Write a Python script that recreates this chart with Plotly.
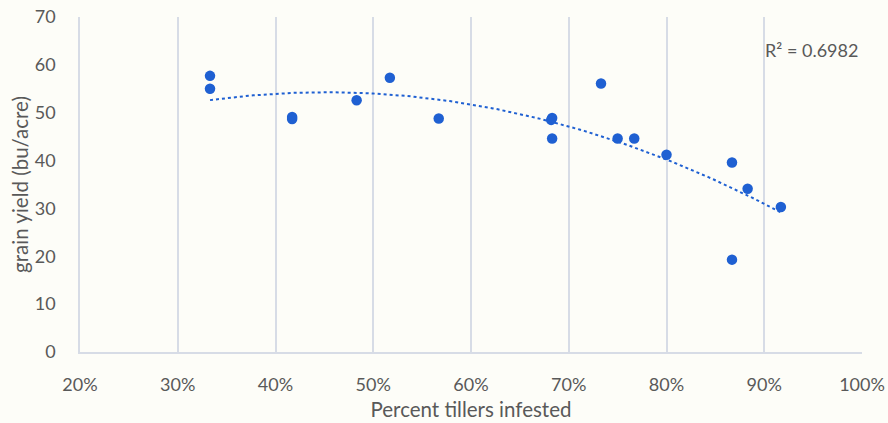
import numpy as np
import plotly.graph_objects as go

# Percent tillers infested (%) and grain yield (bu/acre)
pct_infested = [33.3, 33.3, 41.7, 41.7, 48.3, 51.7, 56.7, 68.3, 68.2, 68.3, 73.3, 75.0, 76.7, 80.0, 86.7, 86.7, 88.3, 91.7]
grain_yield = [57.7, 55.0, 49.1, 48.7, 52.6, 57.3, 48.8, 48.9, 48.5, 44.6, 56.1, 44.6, 44.6, 41.2, 39.6, 19.3, 34.1, 30.3]

x_ticks = [20, 30, 40, 50, 60, 70, 80, 90, 100]
x_tick_labels = ["20%", "30%", "40%", "50%", "60%", "70%", "80%", "90%", "100%"]
y_ticks = [0, 10, 20, 30, 40, 50, 60, 70]
r2_label = "R² = 0.6982"

BG = "#FDFDF8"
GRID = "#D7DCE6"
BLUE = "#1F60D2"
TXT = "#595959"
FONT = "Lato"

# Polynomial (order 2) trendline fitted to the data
coef = np.polyfit(pct_infested, grain_yield, 2)
tx = np.linspace(min(pct_infested), max(pct_infested), 120)
ty = np.polyval(coef, tx)

fig = go.Figure()
fig.add_trace(go.Scatter(x=tx, y=ty, mode="lines",
                         line=dict(color=BLUE, width=2, dash="dot"),
                         hoverinfo="skip", showlegend=False))
fig.add_trace(go.Scatter(x=pct_infested, y=grain_yield, mode="markers",
                         marker=dict(color=BLUE, size=10.5),
                         showlegend=False))

fig.add_annotation(x=1.0, xref="paper", xanchor="right", y=63.1, yref="y",
                   text=r2_label, showarrow=False,
                   font=dict(family=FONT, size=18, color=TXT), xshift=-2)

fig.update_layout(
    width=888, height=423,
    margin=dict(l=80, r=26, t=17, b=71),
    paper_bgcolor=BG, plot_bgcolor=BG,
    font=dict(family=FONT, size=18, color=TXT),
    xaxis=dict(range=[20, 100], tickvals=x_ticks, ticktext=x_tick_labels,
               showgrid=True, gridcolor=GRID, gridwidth=1.5,
               showline=True, linecolor=GRID, linewidth=1.5,
               zeroline=False, ticks="", ticklabelstandoff=16, automargin=False,
               title=dict(text="Percent tillers infested", standoff=8,
                          font=dict(family=FONT, size=20.5, color=TXT))),
    yaxis=dict(range=[0, 70], tickvals=y_ticks,
               showgrid=False, zeroline=False,
               showline=True, linecolor=GRID, linewidth=1.5,
               ticks="", ticklabelstandoff=19, automargin=False,
               title=dict(text="grain yield (bu/acre)", standoff=1,
                          font=dict(family=FONT, size=20.5, color=TXT))),
)

fig.write_html("out.html", config={"displayModeBar": False},
               post_script="document.body.style.margin='0';")
